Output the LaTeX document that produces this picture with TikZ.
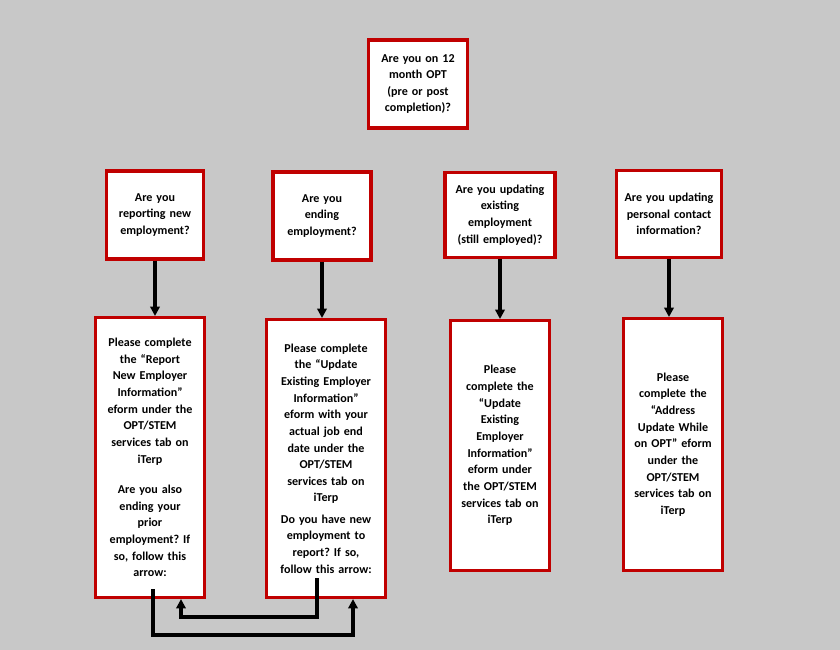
\documentclass[tikz,border=0pt]{standalone}
\usepackage{fontspec}
\setmainfont{Carlito}
\usetikzlibrary{arrows.meta,positioning,shadows}
\definecolor{boxred}{HTML}{C00000}
\definecolor{bggray}{HTML}{C8C8C8}
\tikzset{qbox/.style={draw=boxred,line width=2.6pt,fill=white,align=center,
    font=\fontsize{10.3}{14.2}\selectfont\bfseries\frenchspacing,inner sep=2pt,
    drop shadow={shadow xshift=1.2pt,shadow yshift=-1.2pt,fill=black!70,opacity=1}},
  flow/.style={-{Triangle[length=8pt,width=8pt]},line width=3pt}}
\begin{document}
\begin{tikzpicture}[x=0.03cm,y=-0.03cm]
    \fill[bggray] (0,0) rectangle (840,650);
    \useasboundingbox (0,0) rectangle (840,650);

    \node[qbox,minimum width=99*0.03cm,minimum height=88*0.03cm,text width=90*0.03cm] (top) at (418,84) {Are you on 12\\month OPT\\(pre or post\\completion)?};
    % first row
    \node[qbox,minimum width=97*0.03cm,minimum height=88*0.03cm,text width=90*0.03cm] (q1) at (155,215) {Are you\\reporting new\\employment?};
    \node[qbox,minimum width=98*0.03cm,minimum height=88*0.03cm,text width=90*0.03cm] (q2) at (322,216) {Are you\\ending\\employment?};
    \node[qbox,minimum width=110*0.03cm,minimum height=85*0.03cm,text width=105*0.03cm] (q3) at (500,215) {Are you updating\\existing\\employment\\(still employed)?};
    \node[qbox,minimum width=100*0.03cm,minimum height=87*0.03cm,text width=100*0.03cm] (q4) at (669,214) {Are you updating\\personal contact\\information?};
    % second row
    \node[qbox,minimum width=107*0.03cm,minimum height=280*0.03cm,text width=105*0.03cm,anchor=north] (a1) at (150,316) {Please complete\\the ``Report\\New Employer\\Information''\\eform under the\\OPT/STEM\\services tab on\\iTerp\\[12pt]Are you also\\ending your\\prior\\employment? If\\so, follow this\\arrow:\\[6pt]};
    \node[qbox,minimum width=115*0.03cm,minimum height=278*0.03cm,text width=115*0.03cm,anchor=north] (a2) at (326,318) {Please complete\\the ``Update\\Existing Employer\\Information''\\eform with your\\actual job end\\date under the\\OPT/STEM\\services tab on\\iTerp\\[4pt]Do you have new\\employment to\\report? If so,\\follow this arrow:};
    \node[qbox,minimum width=99*0.03cm,minimum height=250*0.03cm,text width=95*0.03cm,anchor=north] (a3) at (500,319) {Please\\complete the\\``Update\\Existing\\Employer\\Information''\\eform under\\the OPT/STEM\\services tab on\\iTerp\\[20pt]};
    \node[qbox,minimum width=99*0.03cm,minimum height=252*0.03cm,text width=95*0.03cm,anchor=north] (a4) at (673,317) {Please\\complete the\\``Address\\Update While\\on OPT'' eform\\under the\\OPT/STEM\\services tab on\\iTerp\\[34pt]};

    \foreach \i in {1,2,3,4}
        \draw[flow] (q\i.south) -- (q\i.south |- a\i.north);

    \coordinate (s1) at (153,589);
    \coordinate (s2) at (317,578);
    \coordinate (e1) at (181,617);
    \coordinate (e2) at (353,635);
    \draw[flow] (s1) -- (153,635) -- (e2) -- (e2 |- a2.south);
    \draw[flow] (s2) -- (317,617) -- (e1) -- (e1 |- a1.south);
\end{tikzpicture}
\end{document}
